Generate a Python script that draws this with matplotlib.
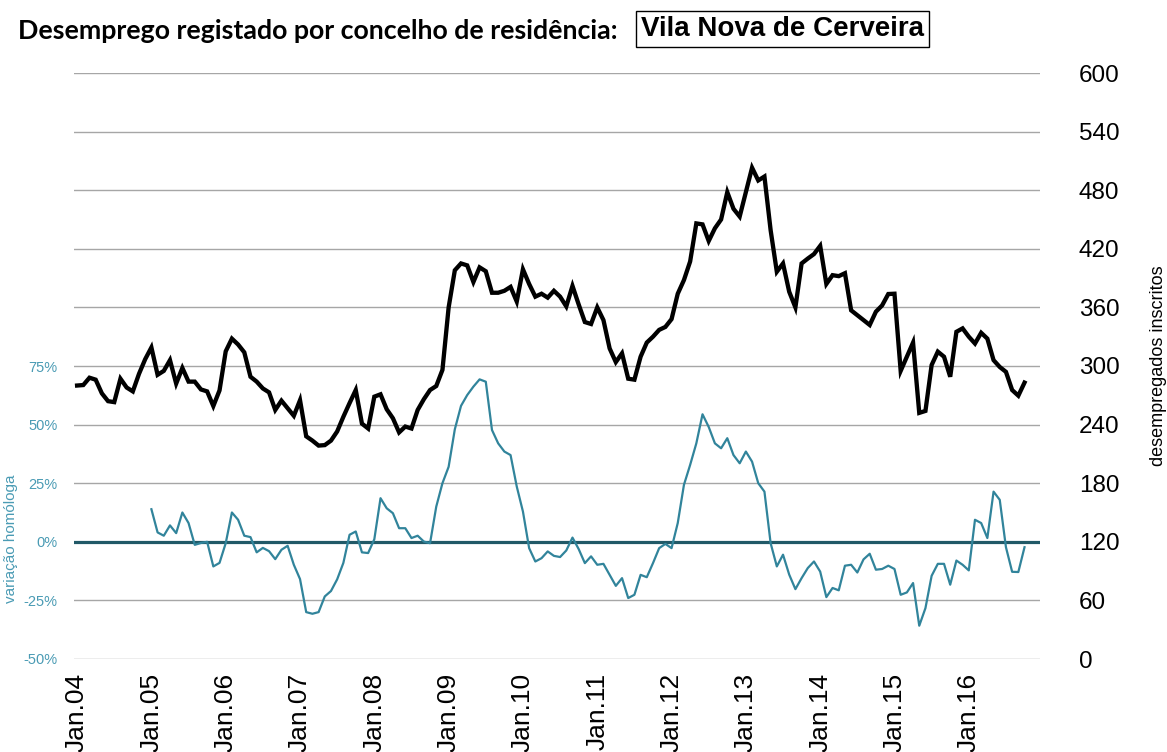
import numpy as np
import matplotlib
matplotlib.use('Agg')
import matplotlib.pyplot as plt
from matplotlib.ticker import FixedLocator, FuncFormatter

concelho = 'Vila Nova de Cerveira'

# desempregados inscritos, mensal, Jan.2004 - Out.2016
inscritos = [
    280, 280.5, 288, 286, 272, 264, 263, 287, 278, 274, 292, 307,
    319, 291, 295, 306, 282, 298, 284, 284, 276, 274, 259, 275,
    315, 328, 322, 314, 289, 284, 277, 273, 255, 264.5, 256.7, 249,
    265, 228, 223.6, 218.5, 219, 223.6, 233, 248, 262, 275.4, 241, 236,
    268.6, 271, 255.7, 246.5, 232, 238, 236, 255, 266, 275.4, 279.5, 296,
    360, 398, 405, 403, 386, 401, 397, 375, 375, 377, 381, 366,
    399, 384, 371, 374, 370, 377, 371, 361, 382, 363, 345, 343,
    360, 347, 318, 304, 313, 287, 286, 309.5, 324, 330, 337, 340,
    348, 374, 388, 407, 446, 445, 428, 441, 450, 478, 461, 453,
    478, 503, 490, 494, 439, 396.5, 405, 376, 360, 405, 410, 414.6,
    423, 384, 393, 392, 395, 357, 352, 347, 342, 355.6, 362, 373.7,
    374, 295, 309.5, 324, 252, 254, 301, 314.7, 309.5, 289, 335, 338.5,
    330, 323, 334, 328, 306, 299, 294, 275.4, 269.6, 283,
]

# variacao homologa (%), a partir de Jan.2005
variacao = [
    13.9, 4, 2.6, 7, 3.7, 12.5, 8, -1.3, -0.5, 0, -10.5, -9,
    -0.6, 12.5, 9.4, 2.6, 2, -4.5, -2.6, -4, -7.4, -3.4, -1.7, -9.8,
    -15.9, -30, -30.7, -30, -23.3, -21, -16, -9, 3, 4.4, -4.5, -4.8,
    1.1, 18.6, 14.3, 12.2, 5.8, 5.8, 1.6, 2.6, 0.1, -0.6, 15, 25,
    32, 48, 58, 62.6, 66.2, 69.3, 68.3, 47.7, 42, 38.5, 37, 23.6,
    12.9, -2.7, -8.4, -7, -4.1, -6, -6.5, -3.7, 1.8, -3.1, -9.1, -6.2,
    -9.8, -9.4, -14.1, -18.8, -15.5, -24, -22.6, -14.1, -15.1, -9.1, -2.7, -0.9,
    -2.7, 8, 24.3, 32.8, 42, 54.4, 49, 42, 39.9, 44.2, 37, 33.5,
    38.5, 34.2, 25, 21.4, -0.6, -10.5, -5.5, -14, -20.2, -15.5, -11.2, -8.4,
    -12.7, -23.6, -19.7, -20.7, -10.2, -9.8, -13.1, -7.5, -5.1, -11.9, -11.6, -10.2,
    -11.6, -22.6, -21.6, -17.6, -35.8, -28.3, -14.5, -9.4, -9.4, -18.3, -8, -9.8,
    -12.2, 9.4, 8, 1.6, 21.4, 17.9, -2.3, -12.8, -12.9, -2.3,
]

anos = ['Jan.%02d' % a for a in range(4, 17)]

teal = '#31849B'
teal_lbl = '#4A9BB4'
grid_col = '#A6A6A6'

x_abs = np.arange(len(inscritos))
x_var = np.arange(12, 12 + len(variacao))

fig = plt.figure(figsize=(11.67, 7.52), dpi=100)
ax = fig.add_axes([74 / 1167, 1 - 659 / 752, 966 / 1167, 586 / 752])
ax2 = ax.twinx()

# eixo esquerdo: variacao homologa
ax.set_ylim(-50, 200)
ax.yaxis.set_major_locator(FixedLocator(np.arange(-50, 201, 25)))
ax.yaxis.set_major_formatter(FuncFormatter(lambda v, p: '%d%%' % v if v <= 75 else ''))
ax.grid(axis='y', color=grid_col, lw=1.0)
ax.set_axisbelow(True)
ax.axhline(0, color='#215967', lw=2.3, zorder=2)
ax.plot(x_var, variacao, color=teal, lw=1.6, zorder=3)
ax.tick_params(axis='y', length=0, pad=12, labelsize=10.5, labelcolor=teal_lbl)
ax.set_ylabel('variação homóloga', color=teal_lbl, fontsize=11)
ax.yaxis.set_label_coords(-0.058, 0.206)

# eixo x
ax.set_xlim(-0.5, 155.5)
ax.set_xticks(np.arange(0, 145, 12))
ax.set_xticklabels(anos, rotation=90, va='top', ha='center')
ax.tick_params(axis='x', length=0, pad=10, labelsize=19)

# eixo direito: inscritos
ax2.set_ylim(0, 600)
ax2.set_yticks(np.arange(0, 601, 60))
ax2.plot(x_abs, inscritos, color='black', lw=3.1, solid_joinstyle='miter', zorder=4)
ax2.tick_params(axis='y', length=0, pad=28, labelsize=17.5)
ax2.set_ylabel('desempregados inscritos', fontsize=13, rotation=90)
ax2.yaxis.set_label_coords(1.114, 0.5)

for a in (ax, ax2):
    for s in a.spines.values():
        s.set_visible(False)

for lbl in ax.get_xticklabels() + ax2.get_yticklabels() + ax.get_yticklabels():
    lbl.set_fontfamily('Liberation Sans')
ax.yaxis.label.set_fontfamily('Liberation Sans')
ax2.yaxis.label.set_fontfamily('Liberation Sans')

fig.text(18 / 1167, 1 - 31 / 752, 'Desemprego registado por concelho de residência:',
         fontsize=19.3, fontweight='bold', family='Lato', ha='left', va='center')
fig.text(782.5 / 1167, 1 - 29 / 752, concelho, fontsize=20, fontweight='bold',
         family='Liberation Sans', ha='center', va='center',
         bbox=dict(boxstyle='square,pad=0.17', fc='white', ec='black', lw=1.0))

fig.savefig('out.png', dpi=100)
